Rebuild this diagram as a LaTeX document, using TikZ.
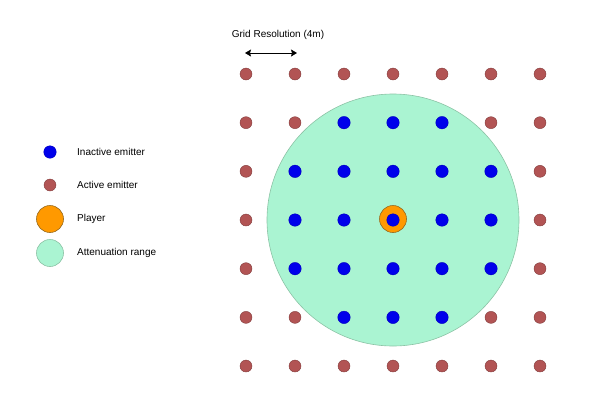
\documentclass[tikz,border=0pt]{standalone}
\usepackage{fontspec}
\setmainfont{Liberation Sans}
\usetikzlibrary{arrows.meta}
\definecolor{emitred}{RGB}{178,84,84}
\definecolor{emitredline}{RGB}{130,60,60}
\definecolor{emitblue}{RGB}{0,0,235}
\definecolor{playerorange}{RGB}{255,153,0}
\definecolor{playerline}{RGB}{150,105,30}
\definecolor{rangegreen}{RGB}{170,244,210}
\definecolor{rangeline}{RGB}{140,195,165}
\tikzset{
  inactive/.style={circle, fill=emitblue, draw=emitblue!80!black, line width=0.4pt, inner sep=0pt, minimum size=12.5pt},
  active/.style={circle, fill=emitred, draw=emitredline, line width=0.4pt, inner sep=0pt, minimum size=12pt},
  player/.style={circle, fill=playerorange, draw=playerline, line width=0.6pt, inner sep=0pt, minimum size=27pt},
  attenuation/.style={circle, fill=rangegreen, draw=rangeline, line width=0.6pt, inner sep=0pt},
  legendtext/.style={anchor=west, inner sep=0pt}
}
\begin{document}
\begin{tikzpicture}[x=1pt, y=-1pt, font=\fontsize{10}{12}\selectfont, line join=round, >={Stealth[length=6pt, width=7pt, inset=1pt]}]
		\useasboundingbox (0,0) rectangle (602,416);
		% legend
		\node[inactive] (li) at (50,152) {};
		\node[legendtext] (lit) at (77,152) {Inactive emitter};
		\node[active] (la) at (50,185) {};
		\node[legendtext] (lat) at (77,185) {Active emitter};
		\node[player] (lp) at (50,219) {};
		\node[legendtext] (lpt) at (77,219) {Player};
		\node[attenuation, minimum size=27pt] (lr) at (50,253) {};
		\node[legendtext] (lrt) at (77,253) {Attenuation range};
		% attenuation range and player
		\node[attenuation, minimum size=252pt] (range) at (393,220) {};
		\node[player] (player) at (393,219) {};
		% emitter grid
		\foreach \i in {0,...,6}
			\foreach \j in {0,...,6} {
				\pgfmathtruncatemacro\d{(\i-3)^2+(\j-3)^2}
				\ifnum\d<6 \def\sty{inactive}\else\def\sty{active}\fi
				\node[\sty] (e-\i-\j) at ({246+49*\i},{74+48.67*\j}) {};
			}
		% grid resolution
		\coordinate (gl) at (245,53);
		\coordinate (gr) at (297,53);
		\draw[<->, line width=0.8pt] (gl) -- (gr);
		\node (gres) at (278,35) {Grid Resolution (4m)};
\end{tikzpicture}
\end{document}
